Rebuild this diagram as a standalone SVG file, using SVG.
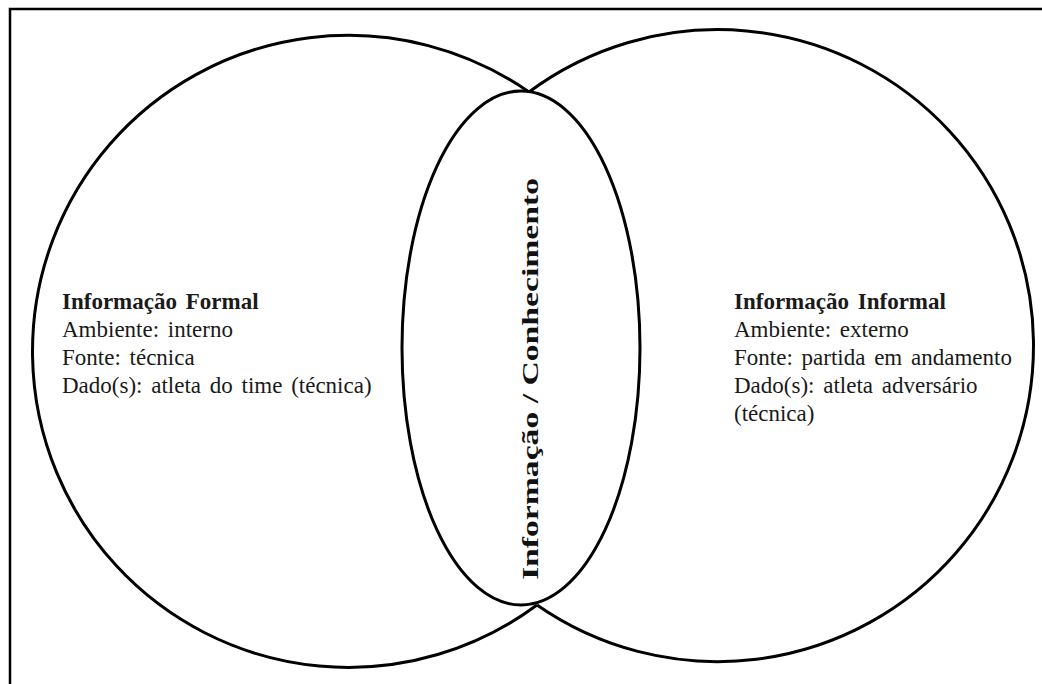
<svg xmlns="http://www.w3.org/2000/svg" width="1042" height="684" viewBox="0 0 1042 684">
<style>
.shape{fill:none;stroke:#000;stroke-width:3}
.t{font-family:"Liberation Serif","Times New Roman",serif;font-size:23px;fill:#1a1a1a;word-spacing:3px}
.b{font-weight:bold}
.v{font-family:"Liberation Serif","Times New Roman",serif;font-size:24px;font-weight:bold;fill:#111}
</style>
<rect width="1042" height="684" fill="#fff"/>
<rect x="10" y="9" width="1050" height="700" fill="none" stroke="#000" stroke-width="2.5"/>
<g id="connectors"></g>
<g id="formal">
<path class="shape" d="M529,92 A316,316 0 1 0 537,605"/>
<text class="t b" x="62" y="309">Informação Formal</text>
<text class="t" x="62" y="337">Ambiente: interno</text>
<text class="t" x="62" y="365">Fonte: técnica</text>
<text class="t" x="62" y="393">Dado(s): atleta do time (técnica)</text>
</g>
<g id="informal">
<path class="shape" d="M529,92 A316,316 0 1 1 537,605"/>
<text class="t b" x="734" y="309">Informação Informal</text>
<text class="t" x="734" y="337">Ambiente: externo</text>
<text class="t" x="734" y="365">Fonte: partida em andamento</text>
<text class="t" x="734" y="393">Dado(s): atleta adversário</text>
<text class="t" x="734" y="421">(técnica)</text>
</g>
<g id="conhecimento">
<ellipse class="shape" cx="521" cy="348" rx="119" ry="257"/>
<text class="v" transform="translate(538,379) rotate(-90)" x="0" y="0" text-anchor="middle" textLength="402" lengthAdjust="spacingAndGlyphs">Informação / Conhecimento</text>
</g>
</svg>
